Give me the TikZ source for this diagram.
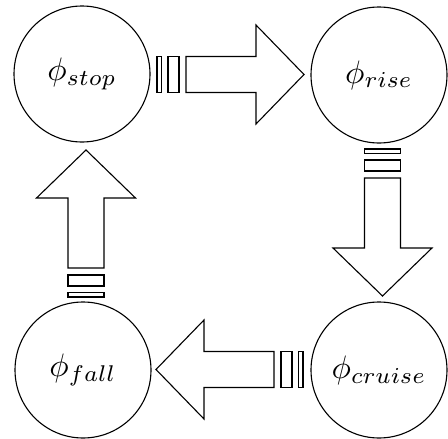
\documentclass[tikz,border=0pt]{standalone}
\usepackage{graphicx}
\tikzset{
  outline/.style={draw=black, line width=1.1pt, line join=miter},
  state/.style={circle, draw=black, line width=1.1pt, minimum size=136pt, inner sep=0pt},
  pics/holarrow/.style={code={
    \draw[outline] (0,-18) rectangle (4.5,18);
    \draw[outline] (11,-18) rectangle (22,18);
    \draw[outline] (29,-18) -- (99,-18) -- (99,-49.5) -- (147,0) -- (99,49.5) -- (99,18) -- (29,18) -- cycle;
  }}
}
\newcommand{\phitxt}[1]{\scalebox{3.25}{$\phi_{#1}$}}
\begin{document}
\begin{tikzpicture}[x=1pt,y=-1pt]
\useasboundingbox (0,0) rectangle (448,439);
\node[state] (stop) at (82,74) {\phitxt{stop}};
\node[state] (rise) at (379,75) {\phitxt{rise}};
\node[state] (fall) at (83,370) {\phitxt{fall}};
\node[state] (cruise) at (379,370) {\phitxt{cruise}};
\pic (a1) at (157,74.5) {holarrow};
\pic[rotate=-90] (a2) at (382.5,149) {holarrow};
\pic[rotate=180] (a3) at (303,369.5) {holarrow};
\pic[rotate=90] (a4) at (86,297) {holarrow};
\end{tikzpicture}
\end{document}
